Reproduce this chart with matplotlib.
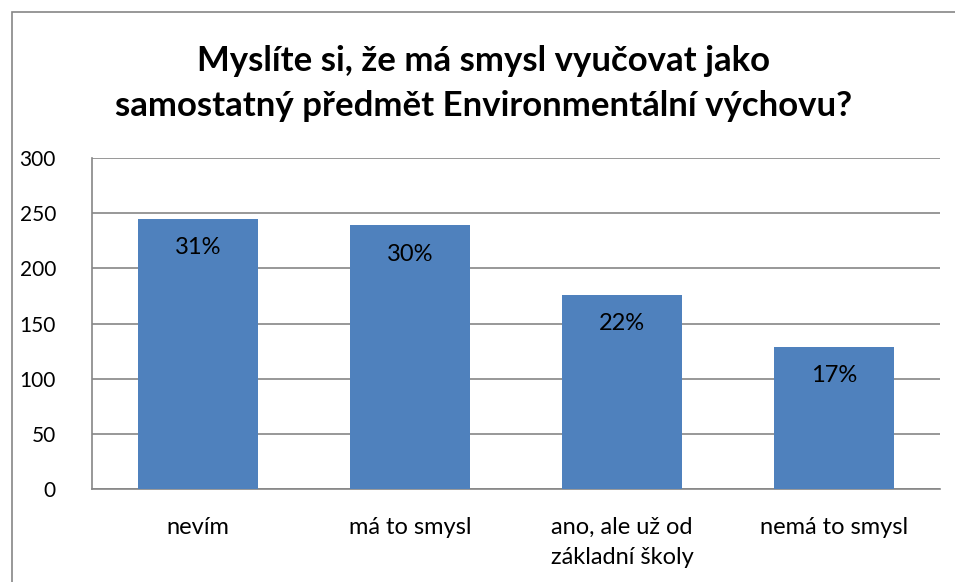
import matplotlib
matplotlib.use("Agg")
import matplotlib.pyplot as plt
from matplotlib.patches import Rectangle

categories = ["nevím", "má to smysl", "ano, ale už od\nzákladní školy", "nemá to smysl"]
values = [245, 239, 176, 129]
pct_labels = ["31%", "30%", "22%", "17%"]
yticks = [0, 50, 100, 150, 200, 250, 300]
title = "Myslíte si, že má smysl vyučovat jako\nsamostatný předmět Environmentální výchovu?"

plt.rcParams['font.family'] = ['Lato', 'DejaVu Sans']

W, H = 955, 582
fig = plt.figure(figsize=(W / 100, H / 100), dpi=100)

# outer chart frame
fig.patches.append(Rectangle((12 / W, -0.2), 1.2, 1.2 - 12 / H, transform=fig.transFigure,
                             fill=False, edgecolor="#868686", linewidth=1.2))

left, right, top, bottom = 92, 940, 158, 489
ax = fig.add_axes([left / W, 1 - bottom / H, (right - left) / W, (bottom - top) / H])

x = range(len(categories))
bars = ax.bar(x, values, width=0.57, color="#4F81BD", zorder=3)
ax.set_xlim(-0.5, len(categories) - 0.5)
ax.set_ylim(0, 300)
ax.set_yticks(yticks)
ax.set_yticklabels([str(t) for t in yticks], fontsize=15)
ax.set_xticks(list(x))
ax.set_xticklabels(categories, fontsize=17, linespacing=1.55, va="top")
ax.tick_params(axis="x", length=0, pad=20)
ax.tick_params(axis="y", length=0, pad=26)
ax.yaxis.grid(True, color="#868686", linewidth=1.2, zorder=0)
for s in ["top", "right"]:
    ax.spines[s].set_visible(False)
ax.spines["left"].set_color("#868686")
ax.spines["bottom"].set_color("#868686")
ax.spines["left"].set_linewidth(1.2)
ax.spines["bottom"].set_linewidth(1.2)

for b, lab in zip(bars, pct_labels):
    ax.annotate(lab, (b.get_x() + b.get_width() / 2, b.get_height()),
                xytext=(0, -21), textcoords="offset points",
                ha="center", va="center", fontsize=17, color="black", zorder=4)

fig.text(0.5 * (12 + W) / W, 1 - 84 / H, title, ha="center", va="center",
         fontsize=25, fontweight="bold", linespacing=1.5)

fig.savefig("out.png", dpi=100)
